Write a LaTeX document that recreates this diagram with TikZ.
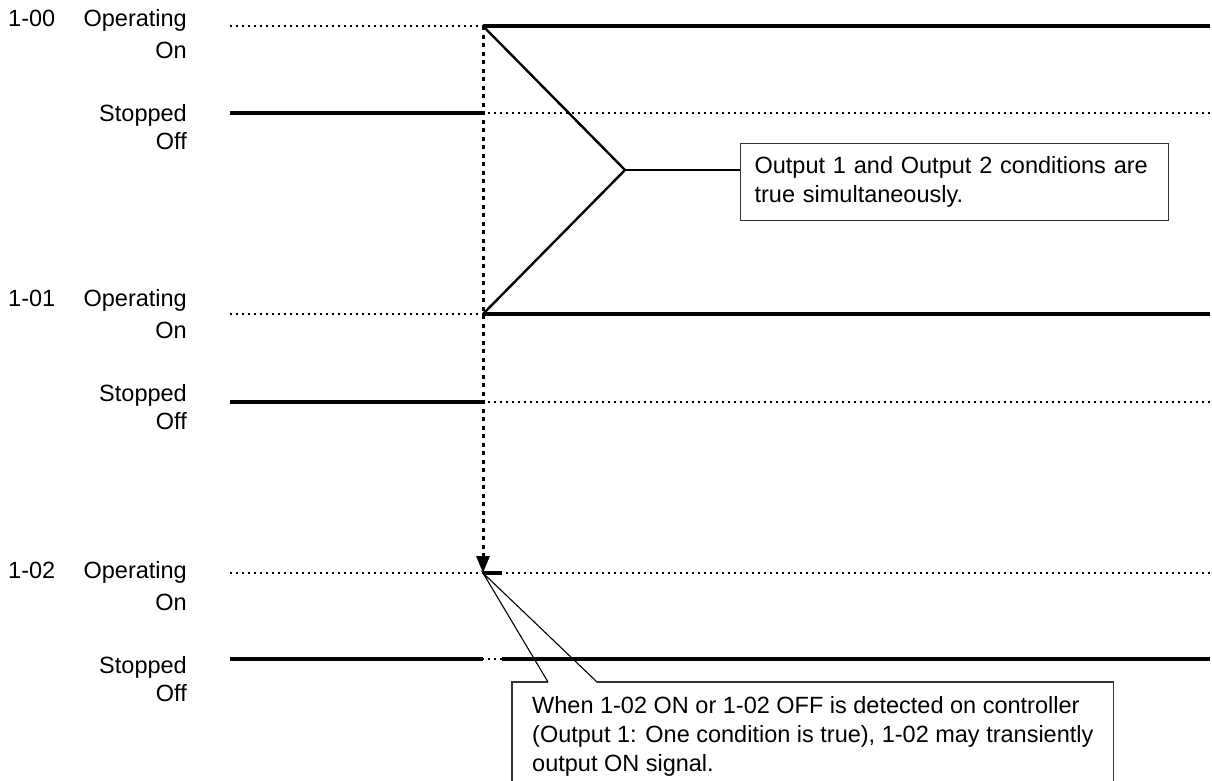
\documentclass[tikz,border=0pt]{standalone}
\usepackage{fontspec}
\setmainfont{Liberation Sans}
\usetikzlibrary{positioning, arrows.meta, calc}
\tikzset{
    guide/.style={line width=1.2pt, dash pattern=on 1.5pt off 4.5pt},
    wave/.style={line width=4pt},
    trig/.style={line width=3pt, dash pattern=on 4pt off 4.5pt, -{Triangle[length=17pt, width=13pt]}},
    wire/.style={line width=2.4pt},
    tail/.style={line width=1.1pt},
    frame/.style={draw=black!80, line width=1.2pt},
    note/.style={frame, align=left, inner ysep=8pt},
    lab/.style={anchor=east, inner sep=0pt, text height=16.8pt, text depth=0pt},
}

\begin{document}
\begin{tikzpicture}[x=1pt, y=-1pt, every node/.style={font=\fontsize{23.5}{29}\selectfont}]
    \useasboundingbox (0,0) rectangle (1212,780);
    \foreach \ch/\on/\off/\lb in {00/26/113/0, 01/314/402/280, 02/573/659/552} {
        \node[lab, anchor=west] (id\ch) at (8,\lb+18) {1-\ch};
        \node[lab] (op\ch) at (187,\lb+18) {Operating};
        \node[lab] (on\ch) at (187,\lb+50) {On};
        \node[lab] (st\ch) at (187,\lb+113) {Stopped};
        \node[lab] (of\ch) at (187,\lb+141) {Off};
        \coordinate (hi\ch) at (483,\on);
        \coordinate (lo\ch) at (483,\off);
        \draw[guide] (230,\on) -- (1210,\on);
        \draw[guide] (230,\off) -- (1210,\off);
        \draw[wave] (230,\off) -- (lo\ch);
    }
    \draw[wave] (hi00) -- ++(727,0);
    \draw[wave] (hi01) -- ++(727,0);
    \draw[wave] (hi02) -- ++(19,0);
    \draw[wave] (lo02) ++(19,0) -- ++(708,0);
    \draw[trig] (hi00) -- (hi02);

    \coordinate (meet) at (625,170);
    \node[note, anchor=north west, text width=400pt, inner xsep=14pt, minimum height=77pt] (both) at (740,143)
        {Output 1 and Output 2 conditions are\\true simultaneously.};
    \draw[wire] (hi00) -- (meet) -- (hi01);
    \draw[wire] (meet) -- (meet -| both.west);

    \node[align=left, anchor=north west, inner xsep=20pt, inner ysep=14pt] (warn) at (512,682)
        {When 1-02 ON or 1-02 OFF is detected on controller\\(Output 1: One condition is true), 1-02 may transiently\\output ON signal.};
    \draw[frame] (warn.north west) ++(0,120) -- (warn.north west) -- (warn.north east) -- ++(0,120);
    \coordinate (ta) at (548,682);
    \coordinate (tb) at (597,682);
    \draw[white, line width=2pt] (ta) -- (tb);
    \draw[tail] (ta) -- (hi02) -- (tb);
\end{tikzpicture}
\end{document}
